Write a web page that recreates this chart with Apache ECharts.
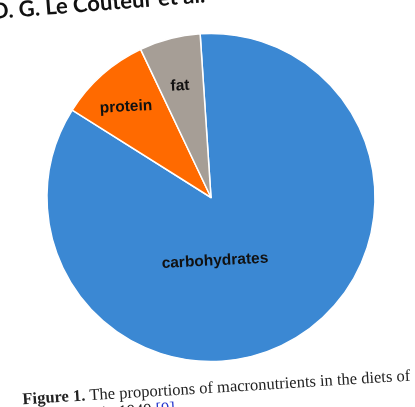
<!DOCTYPE html>
<html>
<head>
<meta charset="utf-8">
<script src="https://cdn.jsdelivr.net/npm/echarts@6/dist/echarts.min.js"></script>
<style>
  html, body { margin: 0; padding: 0; background: #fff; }
  #main { width: 415px; height: 407px; }
</style>
</head>
<body>
<div id="main"></div>
<script>
// macronutrient shares (%)
var categories = ['carbohydrates', 'protein', 'fat'];
var values = [85, 9, 6];
var colors = ['#3b88d3', '#ff6a00', '#a69e96'];

// label spots on the photographed page
var labelSpots = [[215, 261, 3], [126, 107, 3], [180, 86, 3]];

var chart = echarts.init(document.getElementById('main'));

var option = {
  backgroundColor: '#fff',
  animation: false,
  graphic: [
    {
      type: 'text', x: -9, y: 1, rotation: 4.5 * Math.PI / 180,
      style: { text: 'D. G. Le Couteur et al.', font: 'bold 22px Lato', fill: '#111' }
    },
    {
      type: 'text', x: 22, y: 391, rotation: 3.5 * Math.PI / 180,
      style: {
        text: '{b|Figure 1.} The proportions of macronutrients in the diets of\nOkinawans in 1949 {c|[9]}.',
        font: '16.5px "Liberation Serif"', fill: '#222', lineHeight: 18,
        rich: {
          b: { font: 'bold 16.5px "Liberation Serif"', fill: '#222' },
          c: { font: '16.5px "Liberation Serif"', fill: '#2233cc' }
        }
      }
    }
  ],
  series: [{
    type: 'pie',
    center: [211, 197.5],
    radius: 164,
    startAngle: 93.8,
    clockwise: true,
    label: {
      show: true,
      position: 'inside',
      formatter: '{b}',
      color: '#111',
      fontFamily: 'Liberation Sans',
      fontWeight: 'bold',
      fontSize: 15.5
    },
    labelLine: { show: false },
    itemStyle: { borderColor: '#fff', borderWidth: 1.5 },
    emphasis: { disabled: true },
    labelLayout: function (p) {
      var s = labelSpots[p.dataIndex];
      return { x: s[0], y: s[1], rotate: s[2], align: 'center', verticalAlign: 'middle' };
    },
    data: categories.map(function (name, i) {
      return { name: name, value: values[i], itemStyle: { color: colors[i] } };
    })
  }]
};

chart.setOption(option);
</script>
</body>
</html>
